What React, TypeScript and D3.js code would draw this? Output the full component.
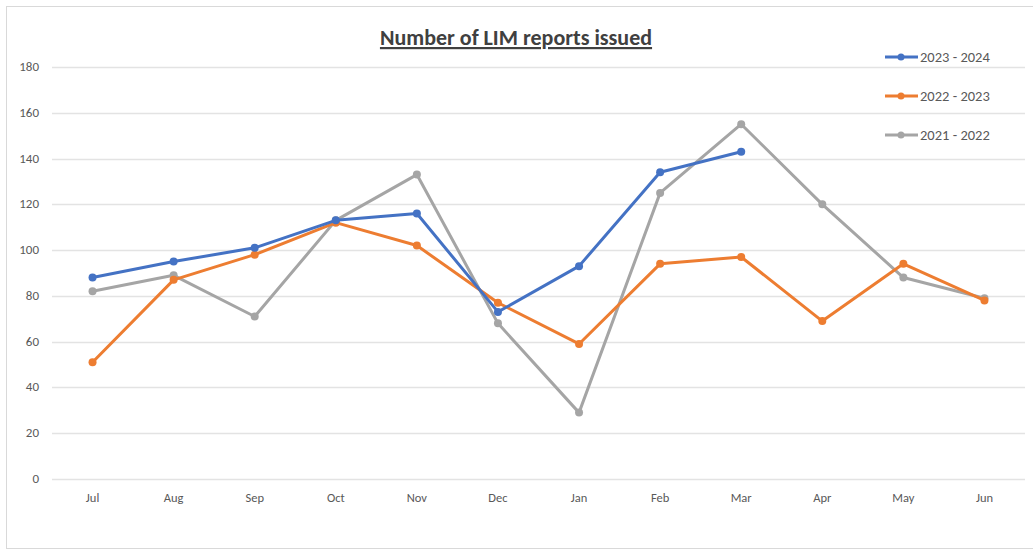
import * as d3 from 'd3';
import React, { useEffect, useRef } from 'react';

const months = ['Jul', 'Aug', 'Sep', 'Oct', 'Nov', 'Dec', 'Jan', 'Feb', 'Mar', 'Apr', 'May', 'Jun'];
const series2324 = [88, 95, 101, 113, 116, 73, 93, 134, 143];
const series2223 = [51, 87, 98, 112, 102, 77, 59, 94, 97, 69, 94, 78];
const series2122 = [82, 89, 71, 113, 133, 68, 29, 125, 155, 120, 88, 79];
const seriesNames = ['2023 - 2024', '2022 - 2023', '2021 - 2022'];
const seriesColors = ['#4472c4', '#ed7d31', '#a5a5a5'];
const yTicks = [0, 20, 40, 60, 80, 100, 120, 140, 160, 180];

const font = 'Carlito, Calibri, "Open Sans", "Liberation Sans", sans-serif';

const App = (): React.JSX.Element => {
	const chartRef = useRef<SVGSVGElement | null>(null);

	useEffect(() => {
		if (chartRef.current === null) return;
		d3.select(chartRef.current).selectAll('*').remove();

		const width = 1033;
		const height = 554;
		const margin = { top: 67, right: 8, bottom: 75, left: 52 };

		const svg = d3.select(chartRef.current)
			.attr('width', width)
			.attr('height', height);

		// frame
		svg.append('rect')
			.attr('x', 6.5)
			.attr('y', 6.5)
			.attr('width', width + 10)
			.attr('height', 542)
			.attr('fill', '#fff')
			.attr('stroke', '#d9d9d9');

		const xScale = d3.scaleBand()
			.domain(months)
			.range([margin.left, width - margin.right]);

		const yScale = d3.scaleLinear()
			.domain([0, 180])
			.range([height - margin.bottom, margin.top]);

		// gridlines
		svg.append('g')
			.selectAll('line')
			.data(yTicks)
			.enter()
			.append('line')
			.attr('x1', margin.left)
			.attr('x2', width - margin.right)
			.attr('y1', (d) => Math.round(yScale(d)) + 0.5)
			.attr('y2', (d) => Math.round(yScale(d)) + 0.5)
			.attr('stroke', '#e3e3e3')
			.attr('stroke-width', 1.5);

		svg.append('g')
			.selectAll('text')
			.data(yTicks)
			.enter()
			.append('text')
			.attr('x', 39)
			.attr('y', (d) => yScale(d) + 4)
			.attr('text-anchor', 'end')
			.attr('font-family', font)
			.attr('font-size', 13)
			.attr('fill', '#595959')
			.text((d) => d);

		svg.append('g')
			.selectAll('text')
			.data(months)
			.enter()
			.append('text')
			.attr('x', (d) => (xScale(d) ?? 0) + xScale.bandwidth() / 2)
			.attr('y', yScale(0) + 23)
			.attr('text-anchor', 'middle')
			.attr('font-family', font)
			.attr('font-size', 12.5)
			.attr('fill', '#595959')
			.text((d) => d);

		// title
		svg.append('text')
			.attr('x', 516)
			.attr('y', 45)
			.attr('text-anchor', 'middle')
			.attr('font-family', font)
			.attr('font-size', 22)
			.attr('font-weight', 'bold')
			.attr('text-decoration', 'underline')
			.attr('fill', '#404040')
			.text('Number of LIM reports issued');

		const allSeries = [series2122, series2223, series2324];
		const allColors = [seriesColors[2], seriesColors[1], seriesColors[0]];

		const line = d3.line<number>()
			.x((_, i) => (xScale(months[i]) ?? 0) + xScale.bandwidth() / 2)
			.y((d) => yScale(d));

		allSeries.forEach((values, s) => {
			const g = svg.append('g');
			g.append('path')
				.datum(values)
				.attr('d', line)
				.attr('fill', 'none')
				.attr('stroke', allColors[s])
				.attr('stroke-width', 3)
				.attr('stroke-linejoin', 'round');
			g.selectAll('circle')
				.data(values)
				.enter()
				.append('circle')
				.attr('cx', (_, i) => (xScale(months[i]) ?? 0) + xScale.bandwidth() / 2)
				.attr('cy', (d) => yScale(d))
				.attr('r', 4)
				.attr('fill', allColors[s]);
		});

		// legend
		const legend = svg.append('g');
		seriesNames.forEach((name, i) => {
			const y = 57 + i * 39;
			legend.append('line')
				.attr('x1', 885)
				.attr('x2', 918)
				.attr('y1', y)
				.attr('y2', y)
				.attr('stroke', seriesColors[i])
				.attr('stroke-width', 3);
			legend.append('circle')
				.attr('cx', 901)
				.attr('cy', y)
				.attr('r', 3.5)
				.attr('fill', seriesColors[i]);
			legend.append('text')
				.attr('x', 920)
				.attr('y', y + 5)
				.attr('font-family', font)
				.attr('font-size', 14.5)
				.attr('fill', '#595959')
				.text(name);
		});
	}, []);

	return (
		<svg ref={chartRef} style={{ position: 'absolute', left: 0, top: 0 }} />
	);
};

export default App;
